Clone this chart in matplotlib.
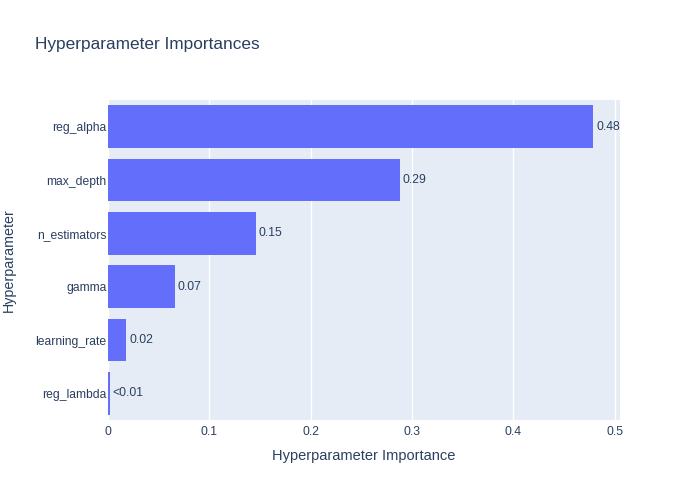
import matplotlib.pyplot as plt

params = ["reg_lambda", "learning_rate", "gamma", "n_estimators", "max_depth", "reg_alpha"]
importances = [0.002, 0.018, 0.066, 0.146, 0.288, 0.479]
labels = ["<0.01", "0.02", "0.07", "0.15", "0.29", "0.48"]

plt.rcParams['font.family'] = ['Liberation Sans', 'DejaVu Sans']
fg = "#2a3f5f"

fig = plt.figure(figsize=(7, 5), dpi=100)
ax = fig.add_axes([108 / 700, 80 / 500, 512 / 700, 320 / 500])
ax.set_facecolor("#E5ECF6")

ypos = range(len(params))
ax.barh(ypos, importances, height=0.8, color="#636EFA", zorder=3)
for y, v, t in zip(ypos, importances, labels):
    ax.annotate(t, (v, y), xytext=(2, 0), textcoords="offset points",
                va="center", ha="left", fontsize=8.7, color=fg, zorder=4)

ax.set_xlim(0, max(importances) * 1.055)
ax.set_ylim(-0.5, len(params) - 0.5)
ax.set_yticks(list(ypos))
ax.set_yticklabels(params)
ax.set_xticks([0, 0.1, 0.2, 0.3, 0.4, 0.5])
ax.set_xticklabels(["0", "0.1", "0.2", "0.3", "0.4", "0.5"])
ax.grid(axis="x", color="white", linewidth=1, zorder=0)
ax.tick_params(length=0, labelsize=8.7, labelcolor=fg, pad=1)
ax.tick_params(axis="x", pad=4)
for s in ax.spines.values():
    s.set_visible(False)

ax.set_xlabel("Hyperparameter Importance", fontsize=10.5, color=fg, labelpad=8)
fig.text(2 / 700, 1 - 260 / 500, "Hyperparameter", rotation=90, fontsize=10.3,
         color=fg, ha="left", va="center")
fig.text(35 / 700, 1 - 45 / 500, "Hyperparameter Importances", fontsize=12.4,
         color=fg, ha="left", va="center")

fig.savefig("out.png", dpi=100)
